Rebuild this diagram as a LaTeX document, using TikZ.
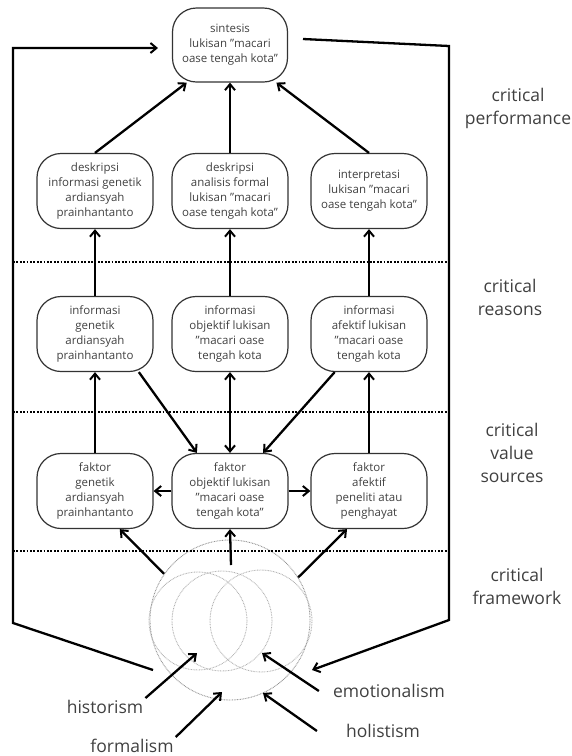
\documentclass[tikz,border=0pt]{standalone}
\usepackage{fontspec}
\setmainfont{Open Sans}
\usetikzlibrary{arrows.meta}
\usetikzlibrary{positioning}

\tikzset{
  box/.style={draw=black!80, line width=1.2pt, rounded corners=24pt,
    minimum width=116pt, minimum height=75pt, align=center,
    font=\fontsize{11.5}{15}\selectfont, text=black!75},
  lvl/.style={align=center, font=\fontsize{17.5}{23}\selectfont, text=black!75},
  link/.style={-{Straight Barb[length=6pt,width=10pt,line width=2pt]}, line width=2.3pt},
  twolink/.style={{Straight Barb[length=6pt,width=10pt,line width=2pt]}-{Straight Barb[length=6pt,width=10pt,line width=2pt]}, line width=2.3pt},
  sep/.style={line width=2.2pt, dash pattern=on 1.7pt off 1.7pt},
  ring/.style={circle, draw=gray!60, line width=0.9pt, dash pattern=on 0.8pt off 0.8pt},
}

\begin{document}
\begin{tikzpicture}[x=1pt, y=-1pt]
  \useasboundingbox (0,0) rectangle (572,756);

  % boxes
  \node[box, minimum width=115pt, minimum height=74pt] (sint) at (230,45) {sintesis\\lukisan "macari\\oase tengah kota"};

  \node[box] (dgen) at (95,191)  {deskripsi\\informasi genetik\\ardiansyah\\prainhantanto};
  \node[box] (dfor) at (230,191) {deskripsi\\analisis formal\\lukisan "macari\\oase tengah kota"};
  \node[box] (dint) at (369,191) {interpretasi\\lukisan "macari\\oase tengah kota"};

  \node[box] (igen) at (95,334)  {informasi\\genetik\\ardiansyah\\prainhantanto};
  \node[box] (iobj) at (230,334) {informasi\\objektif lukisan\\"macari oase\\tengah kota};
  \node[box] (iafe) at (369,334) {informasi\\afektif lukisan\\"macari oase\\tengah kota};

  \node[box] (fgen) at (95,491)  {faktor\\genetik\\ardiansyah\\prainhantanto};
  \node[box] (fobj) at (230,491) {faktor\\objektif lukisan\\"macari oase\\tengah kota"};
  \node[box] (fafe) at (369,491) {faktor\\afektif\\peneliti atau\\penghayat};

  % venn
  \node[ring, draw=gray!85, minimum size=160pt] (venn) at (230,620) {};
  \node[ring, draw=gray!60, minimum size=98pt]  (va) at (198,621) {};
  \node[ring, draw=gray!60, minimum size=100pt] (vb) at (222,621) {};
  \node[ring, draw=gray!60, minimum size=102pt] (vc) at (261,621) {};

  % labels
  \node[lvl] (lperf) at (518,108) {critical\\performance};
  \node[lvl] (lreas) at (510,297) {critical\\reasons};
  \node[lvl] (lval)  at (512,453) {critical\\value\\sources};
  \node[lvl] (lfram) at (517,586) {critical\\framework};

  \node[lvl, inner sep=2pt] (hist) at (105,707) {historism};
  \node[lvl, inner sep=2pt] (form) at (132,746) {formalism};
  \node[lvl, inner sep=2pt] (emo)  at (389,691) {emotionalism};
  \node[lvl, inner sep=2pt] (holi) at (383,731) {holistism};

  \draw[sep] (13,262) -- (448,262);
  \draw[sep] (13,412) -- (448,412);
  \draw[sep] (13,551) -- (448,551);

  % arrows
  \draw[link] (dgen.north) -- (sint.221);
  \draw[link] (dfor.north) -- (sint.south);
  \draw[link] (dint.north) -- (sint.321);

  \draw[link] (igen.north) -- (dgen.south);
  \draw[link] (iobj.north) -- (dfor.south);
  \draw[link] (iafe.north) -- (dint.south);

  \draw[link] (fgen.north) -- (igen.south);
  \draw[twolink] (iobj.south) -- (fobj.north);
  \draw[link] (fafe.north) -- (iafe.south);
  \draw[link] (igen.319) -- (fobj.131);
  \draw[link] (iafe.228) -- (fobj.49);

  \draw[link] (fobj.west) -- (fgen.east);
  \draw[link] (fobj.east) -- (fafe.west);

  \coordinate (vtop) at (231,565);
  \draw[link] (venn.145) -- (fgen.303);
  \draw[link] (vtop) -- (fobj.south);
  \draw[link] (venn.32) -- (fafe.240);

  \coordinate (vhist) at (197,653);
  \coordinate (vform) at (222,692);
  \coordinate (vemo)  at (262,653);
  \coordinate (vholi) at (263,693);
  \draw[link] (hist.north east) -- (vhist);
  \draw[link] (form.north east) -- (vform);
  \draw[link] ([xshift=-12pt]emo.west) -- (vemo);
  \draw[link] ([xshift=-27pt]holi.west) -- (vholi);

  % feedback lines
  \coordinate (lfoot) at (153,670);
  \coordinate (lbot)  at (13,623);
  \coordinate (ltop)  at (13,48);
  \coordinate (lin)   at (158,48);
  \draw[link, line join=miter] (lfoot) -- (lbot) -- (ltop) -- (lin);

  \coordinate (rout)  at (303,39);
  \coordinate (rtop)  at (449,46);
  \coordinate (rbot)  at (449,620);
  \coordinate (rfoot) at (312,670);
  \draw[link, line join=miter] (rout) -- (rtop) -- (rbot) -- (rfoot);
\end{tikzpicture}
\end{document}
